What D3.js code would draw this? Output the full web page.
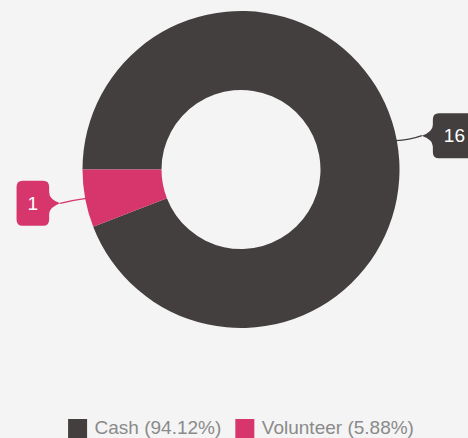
<!DOCTYPE html>
<html>
<head>
<meta charset="utf-8">
<script src="https://cdn.jsdelivr.net/npm/d3@7"></script>
<style>
  html, body { margin: 0; padding: 0; background: #f4f4f4; }
  svg { display: block; }
  text { font-family: "Liberation Sans", Arial, sans-serif; }
</style>
</head>
<body>
<svg id="chart" width="468" height="438"></svg>
<script>
const categories = ["Cash", "Volunteer"];
const values = [16, 1];
const colors = ["#433f3e", "#d6366c"];

const W = 468, H = 438;
const cx = 241, cy = 169.5;
const outerR = 158.5, innerR = 79.5;
const tipR = 184;

const svg = d3.select("#chart");
svg.append("rect").attr("width", W).attr("height", H).attr("fill", "#f4f4f4");

const data = categories.map((c, i) => ({ name: c, value: values[i], color: colors[i] }));
const total = d3.sum(values);

const pie = d3.pie().value(d => d.value).sort(null)
  .startAngle(-Math.PI / 2).endAngle(3 * Math.PI / 2);
const arcs = pie(data);
const arc = d3.arc().innerRadius(innerR).outerRadius(outerR);

const g = svg.append("g").attr("transform", `translate(${cx},${cy})`);
g.selectAll("path.slice").data(arcs).enter().append("path")
  .attr("class", "slice")
  .attr("d", arc)
  .attr("fill", d => d.data.color);

// callout labels
const fontSize = 19;
arcs.forEach(a => {
  const mid = (a.startAngle + a.endAngle) / 2;
  const sx = Math.sin(mid), sy = -Math.cos(mid);
  const p0 = [cx + sx * (outerR - 1), cy + sy * (outerR - 1)];
  const tip = [cx + sx * tipR, cy + sy * tipR];
  const right = sx >= 0;
  const mx = (p0[0] + tip[0]) / 2;
  svg.append("path")
    .attr("d", `M${p0[0]},${p0[1]} Q${mx},${p0[1] - (p0[1]-tip[1])*0.2 + 0.8} ${tip[0]},${tip[1]}`)
    .attr("fill", "none")
    .attr("stroke", a.data.color)
    .attr("stroke-width", 1.3);

  const label = String(a.data.value);
  const tmp = svg.append("text").attr("font-size", fontSize).text(label);
  const tw = tmp.node().getComputedTextLength();
  tmp.remove();
  const pad = 11, bh = 45, r = 6, gap = 11;
  const bw = tw + 2 * pad;
  const bx = right ? tip[0] + gap : tip[0] - gap - bw;
  const by = tip[1] - bh / 2;
  const ty = tip[1];
  let path;
  if (right) {
    const e = bx;
    path = `M${e + r},${by} H${bx + bw - r} Q${bx + bw},${by} ${bx + bw},${by + r} V${by + bh - r} Q${bx + bw},${by + bh} ${bx + bw - r},${by + bh} H${e + r} Q${e},${by + bh} ${e},${by + bh - r} V${ty + 11} Q${e},${ty + 4} ${tip[0]},${ty} Q${e},${ty - 4} ${e},${ty - 11} V${by + r} Q${e},${by} ${e + r},${by} Z`;
  } else {
    const e = bx + bw;
    path = `M${bx + r},${by} H${e - r} Q${e},${by} ${e},${by + r} V${ty - 11} Q${e},${ty - 4} ${tip[0]},${ty} Q${e},${ty + 4} ${e},${ty + 11} V${by + bh - r} Q${e},${by + bh} ${e - r},${by + bh} H${bx + r} Q${bx},${by + bh} ${bx},${by + bh - r} V${by + r} Q${bx},${by} ${bx + r},${by} Z`;
  }
  svg.append("path").attr("d", path).attr("fill", a.data.color);
  svg.append("text")
    .attr("x", bx + bw / 2).attr("y", ty)
    .attr("text-anchor", "middle")
    .attr("dominant-baseline", "central")
    .attr("font-size", fontSize)
    .attr("fill", "#ffffff")
    .text(label);
});

// legend
const legendY = 419, sq = 19, txtGap = 7.5, itemGap = 14;
const legend = svg.append("g");
let x = 0;
data.forEach(d => {
  const it = legend.append("g");
  it.append("rect").attr("x", 0).attr("y", legendY).attr("width", sq).attr("height", sq).attr("fill", d.color);
  const t = it.append("text")
    .attr("x", sq + txtGap).attr("y", legendY + 15)
    .attr("font-size", fontSize)
    .attr("fill", "#8a8a8a")
    .text(`${d.name} (${(d.value / total * 100).toFixed(2)}%)`);
  const w = sq + txtGap + t.node().getComputedTextLength();
  it.attr("transform", `translate(${x},0)`);
  x += w + itemGap;
});
const totalW = x - itemGap;
legend.attr("transform", `translate(${cx - totalW / 2},0)`);
</script>
</body>
</html>
